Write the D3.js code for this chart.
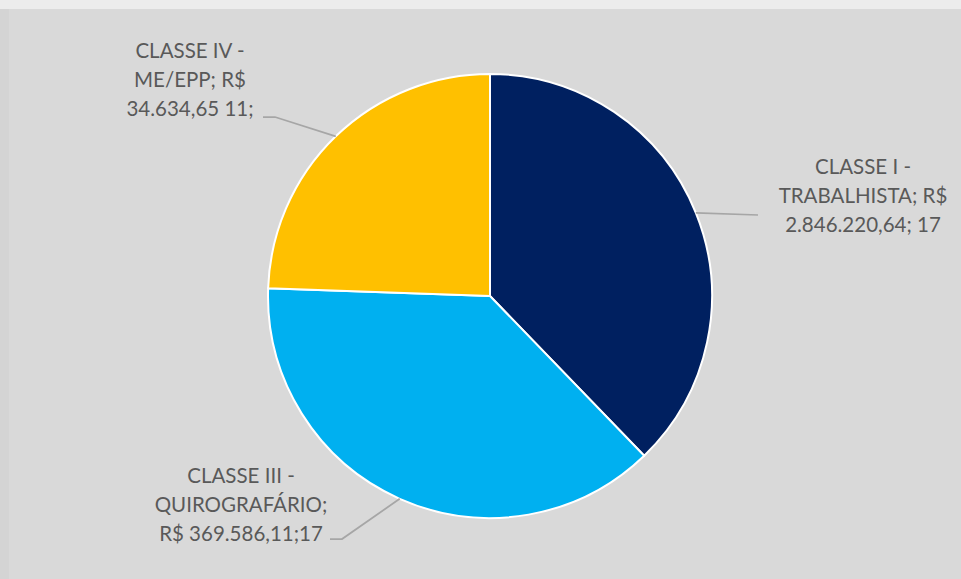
<!DOCTYPE html>
<html>
<head>
<meta charset="utf-8">
<script src="https://cdn.jsdelivr.net/npm/d3@7"></script>
<style>
  html, body { margin: 0; padding: 0; background: #d9d9d9; }
  svg { display: block; }
  .rotulo { font-family: Lato, "Open Sans", sans-serif; font-size: 20.5px; fill: #595959; }
</style>
</head>
<body>
<svg width="961" height="579"></svg>
<script>
// dados do gráfico
var classes = ['CLASSE I - TRABALHISTA', 'CLASSE III - QUIROGRAFÁRIO', 'CLASSE IV - ME/EPP'];
var valores = ['2.846.220,64', '369.586,11', '34.634,65'];
var credores = [17, 17, 11];
var rotulos = [
  ['CLASSE I -', 'TRABALHISTA; R$', '2.846.220,64; 17'],
  ['CLASSE III -', 'QUIROGRAFÁRIO;', 'R$ 369.586,11;17'],
  ['CLASSE IV -', 'ME/EPP; R$', '34.634,65 11;']
];
var cores = ['#002060', '#00b0f0', '#ffc000'];

// posição dos blocos de rótulo (centro x, y da primeira linha) e ponta da linha guia
var posRotulo = [[863, 167], [241, 476], [190, 51]];
var pontaGuia = [[[758, 215]], [[330, 539], [342, 539]], [[263, 117], [275, 117]]];

var width = 961, height = 579;
var cx = 490, cy = 296, raio = 222;

var svg = d3.select('svg');

svg.append('rect')
   .attr('width', width).attr('height', height)
   .attr('fill', '#d9d9d9');
svg.append('rect')
   .attr('width', width).attr('height', 9)
   .attr('fill', '#ececec');
svg.append('rect')
   .attr('y', 9).attr('width', 9).attr('height', height - 9)
   .attr('fill', '#d4d4d4');

var dados = classes.map((c, i) => ({ classe: c, valor: valores[i], n: credores[i], rotulo: rotulos[i], i: i }));

var pie = d3.pie()
            .sort(null)
            .value(d => d.n);
var arc = d3.arc()
            .innerRadius(0)
            .outerRadius(raio);
var arcBorda = d3.arc()
                 .innerRadius(raio)
                 .outerRadius(raio);

var g = svg.append('g')
           .attr('transform', 'translate(' + cx + ',' + cy + ')');

var fatias = pie(dados);

// linhas guia
fatias.forEach(f => {
  var p = arcBorda.centroid(f);
  var pontos = [[p[0] + cx, p[1] + cy]];
  var ponta = pontaGuia[f.data.i].slice().reverse();
  ponta.forEach(q => pontos.push(q));
  svg.append('path')
     .attr('d', d3.line()(pontos))
     .attr('fill', 'none')
     .attr('stroke', '#a6a6a6')
     .attr('stroke-width', 1.75);
});

g.selectAll('path.fatia')
 .data(fatias)
 .enter()
 .append('path')
   .attr('class', 'fatia')
   .attr('d', arc)
   .attr('fill', d => cores[d.data.i])
   .attr('stroke', '#ffffff')
   .attr('stroke-width', 2);

// rótulos
fatias.forEach(f => {
  var pos = posRotulo[f.data.i];
  var t = svg.append('text')
             .attr('class', 'rotulo')
             .attr('text-anchor', 'middle')
             .attr('x', pos[0])
             .attr('y', pos[1]);
  f.data.rotulo.forEach((linha, k) => {
    t.append('tspan')
     .attr('x', pos[0])
     .attr('dy', k === 0 ? '0.35em' : 29)
     .text(linha);
  });
});
</script>
</body>
</html>
